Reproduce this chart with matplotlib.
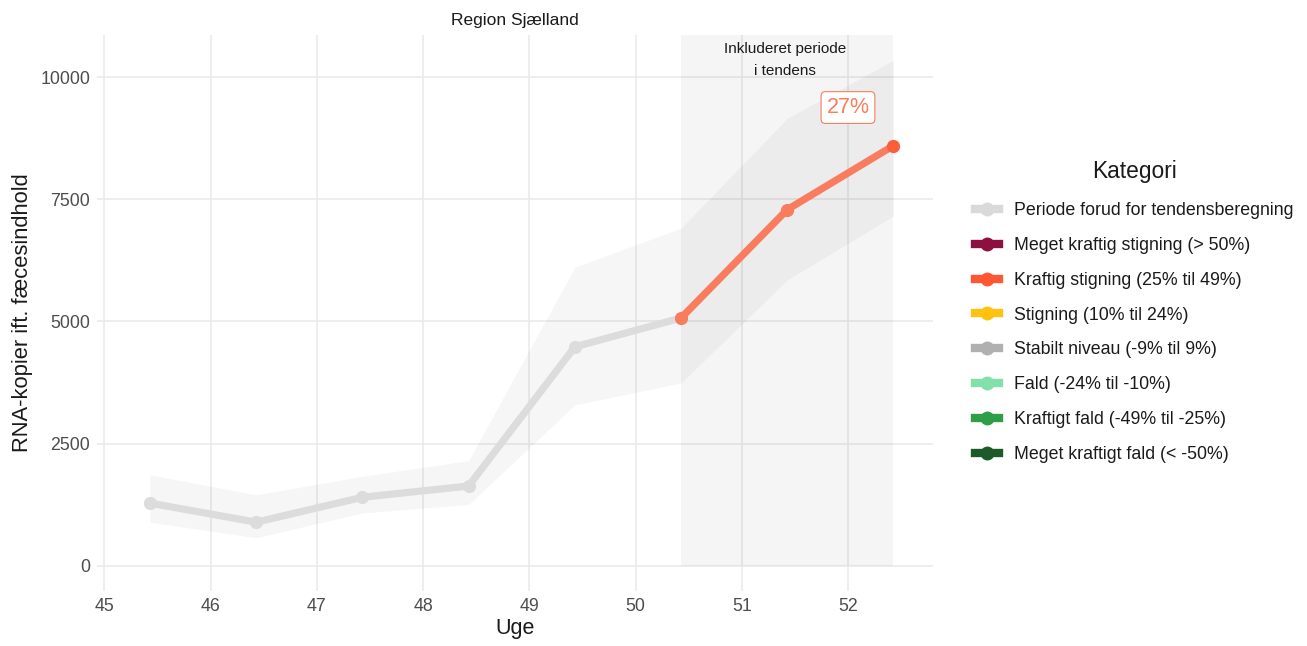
import matplotlib.pyplot as plt
import numpy as np
from matplotlib.lines import Line2D
from matplotlib.patches import Rectangle

plt.rcParams['font.family'] = ['Liberation Sans', 'DejaVu Sans']

# data
weeks = [45, 46, 47, 48, 49, 50, 51, 52]
day_offset = 3 / 7  # points sit mid-week
values = [1280, 890, 1400, 1630, 4480, 5070, 7290, 8600]
lower = [890, 570, 1080, 1250, 3290, 3740, 5850, 7160]
upper = [1860, 1450, 1830, 2150, 6110, 6910, 9160, 10350]
trend_start = 5  # index where the trend period starts
trend_label = "27%"

categories = ["Periode forud for tendensberegning",
              "Meget kraftig stigning (> 50%)",
              "Kraftig stigning (25% til 49%)",
              "Stigning (10% til 24%)",
              "Stabilt niveau (-9% til 9%)",
              "Fald (-24% til -10%)",
              "Kraftigt fald (-49% til -25%)",
              "Meget kraftigt fald (< -50%)"]
cat_colors = ["#D9D9D9", "#8E1040", "#FF5733", "#FFC20E",
              "#B0B0B0", "#82E0AA", "#2E9E48", "#1D5A2A"]

x = np.array(weeks) + day_offset
y = np.array(values)

fig = plt.figure(figsize=(13.07, 6.46), dpi=100)
ax = fig.add_axes([0.0742, 0.0851, 0.6396, 0.8607])

# shaded trend period
ax.add_patch(Rectangle((x[trend_start], 0), x[-1] - x[trend_start], 20000,
                       facecolor="black", alpha=0.04, edgecolor="none", zorder=1))
ax.fill_between(x, lower, upper, color="black", alpha=0.035, linewidth=0, zorder=1)

ax.plot(x[:trend_start + 1], y[:trend_start + 1], color="#DCDCDC", lw=5.2,
        solid_capstyle="round", zorder=3)
ax.plot(x[:trend_start], y[:trend_start], "o", color="#DCDCDC", ms=8.5, zorder=4)
ax.plot(x[trend_start:], y[trend_start:], color="#F97C5E", lw=5.2,
        solid_capstyle="round", zorder=5)
ax.plot(x[trend_start:-1], y[trend_start:-1], "o", color="#F97C5E", ms=8.5, zorder=6)
ax.plot(x[-1], y[-1], "o", color="#FC5E3A", ms=8.5, zorder=6)

ax.text(52.0, 9380, trend_label, color="#F97C5E", fontsize=15.5, ha="center", va="center",
        bbox=dict(boxstyle="round,pad=0.25,rounding_size=0.2", fc="white", ec="#F97C5E", lw=0.8),
        zorder=7)
ax.text((x[trend_start] + x[-1]) / 2 - 0.02, 10350, "Inkluderet periode\ni tendens",
        fontsize=11, ha="center", va="center", color="#1a1a1a", linespacing=1.7, zorder=7)

ax.set_xlim(44.93, 52.80)
ax.set_ylim(-520, 10865)
ax.set_xticks(weeks)
ax.set_yticks([0, 2500, 5000, 7500, 10000])
ax.grid(True, color="#EBEBEB", lw=1.2)
ax.set_axisbelow(True)
for s in ax.spines.values():
    s.set_visible(False)
ax.tick_params(length=0, labelsize=12.8, labelcolor="#4D4D4D", pad=5)
ax.set_xlabel("Uge", fontsize=15.5, color="#1a1a1a", labelpad=2)
ax.set_ylabel("RNA-kopier ift. fæcesindhold", fontsize=15.8, color="#1a1a1a", labelpad=5)
ax.set_title("Region Sjælland", fontsize=12.5, color="#1a1a1a", pad=7)

handles = [Line2D([0], [0], color=c, lw=6, marker="o", ms=9) for c in cat_colors]
leg = fig.legend(handles, categories, title="Kategori", loc="center left",
                 bbox_to_anchor=(0.734, 0.518), frameon=False, fontsize=12.8,
                 title_fontsize=16.4, handlelength=1.35, handletextpad=0.85,
                 labelspacing=1.0, labelcolor="#1a1a1a")
leg.get_title().set_color("#1a1a1a")
leg._legend_box.align = "center"
leg._legend_box.sep = 14

fig.savefig("out.png", dpi=100)
plt.close()
